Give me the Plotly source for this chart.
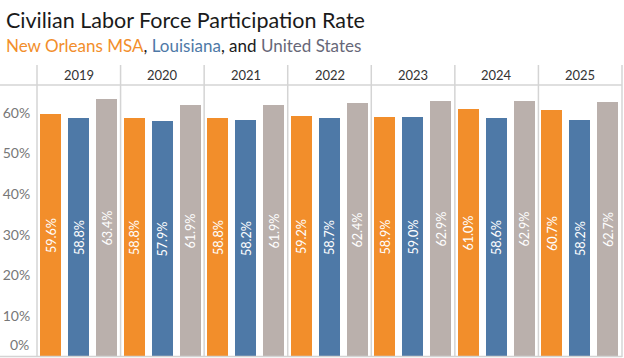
import plotly.graph_objects as go
from plotly.subplots import make_subplots

years = ["2019", "2020", "2021", "2022", "2023", "2024", "2025"]
series = ["New Orleans MSA", "Louisiana", "United States"]
new_orleans = [59.6, 58.8, 58.8, 59.2, 58.9, 61.0, 60.7]
louisiana = [58.8, 57.9, 58.2, 58.7, 59.0, 58.6, 58.2]
united_states = [63.4, 61.9, 61.9, 62.4, 62.9, 62.9, 62.7]
colors = ["#F28E2B", "#4E79A7", "#BAB0AC"]
y_ticks = [10, 20, 30, 40, 50, 60]
y_tick_text = ["10%", "20%", "30%", "40%", "50%", "60%"]

W, H = 624, 358
ML, MR, MT, MB = 37, 2, 85, 1
PW = W - ML - MR
PH = H - MT - MB
YMAX = 66.8

font = "Lato"
fig = make_subplots(rows=1, cols=7, shared_yaxes=True, horizontal_spacing=0)

values = [new_orleans, louisiana, united_states]
for i, yr in enumerate(years):
    ys = [values[s][i] for s in range(3)]
    fig.add_trace(go.Bar(
        x=series, y=ys, marker=dict(color=colors, line=dict(width=0)),
        width=0.75,
        texttemplate="%{y:.1f}%", textposition="inside", textangle=-90,
        insidetextanchor="middle",
        textfont=dict(color="white", size=16, family=font),
        hoverinfo="skip", showlegend=False,
    ), row=1, col=i + 1)

for i in range(7):
    fig.update_xaxes(showticklabels=False, showgrid=False, zeroline=False,
                     range=[-0.5, 2.5], fixedrange=True, row=1, col=i + 1)

fig.update_yaxes(range=[0, YMAX], tickvals=y_ticks, ticktext=y_tick_text,
                 showgrid=False, zeroline=False, ticks="outside", ticklen=3,
                 tickcolor="rgba(0,0,0,0)", automargin=False, fixedrange=True,
                 tickfont=dict(size=14, color="#777777", family=font), row=1, col=1)

px2x = lambda px: (px - ML) / PW
px2y = lambda py: (H - MB - py) / PH
line_col = "#d4d4d4"
shapes = []
for i in range(8):
    x = i / 7
    shapes.append(dict(type="line", xref="paper", yref="paper", x0=x, x1=x,
                       y0=0, y1=px2y(65), line=dict(color=line_col, width=1.5)))
shapes.append(dict(type="line", xref="paper", yref="paper", x0=px2x(0), x1=1,
                   y0=1, y1=1, line=dict(color=line_col, width=1.5)))
shapes.append(dict(type="line", xref="paper", yref="paper", x0=px2x(0), x1=1,
                   y0=px2y(356.5), y1=px2y(356.5), line=dict(color=line_col, width=1.5)))

annotations = []
for i, yr in enumerate(years):
    annotations.append(dict(text=yr, xref="paper", yref="paper", x=(i + 0.5) / 7,
                            y=px2y(75), xanchor="center", yanchor="middle",
                            showarrow=False, font=dict(size=13, color="#333333", family=font)))
annotations.append(dict(text="0%", xref="paper", yref="paper", x=px2x(31), y=px2y(355),
                        xanchor="right", yanchor="bottom", showarrow=False,
                        font=dict(size=14, color="#777777", family=font)))
annotations.append(dict(text="Civilian Labor Force Participation Rate", xref="paper", yref="paper",
                        x=px2x(4), y=px2y(20), xanchor="left", yanchor="middle", showarrow=False,
                        font=dict(size=21.5, color="#1a1a1a", family=font)))
annotations.append(dict(
    text=f"<span style='color:{colors[0]}'>New Orleans MSA</span>, "
         f"<span style='color:{colors[1]}'>Louisiana</span>, and "
         f"<span style='color:#676778'>United States</span>",
    xref="paper", yref="paper", x=px2x(4), y=px2y(45), xanchor="left", yanchor="middle",
    showarrow=False, font=dict(size=17, color="#1a1a1a", family=font)))

fig.update_layout(width=W, height=H, margin=dict(l=ML, r=MR, t=MT, b=MB),
                  plot_bgcolor="white", paper_bgcolor="white", bargap=0,
                  shapes=shapes, annotations=annotations, font=dict(family=font))
fig.write_html("out.html", config={"displayModeBar": False},
               post_script="document.body.style.margin='0';document.body.style.overflow='hidden';")
